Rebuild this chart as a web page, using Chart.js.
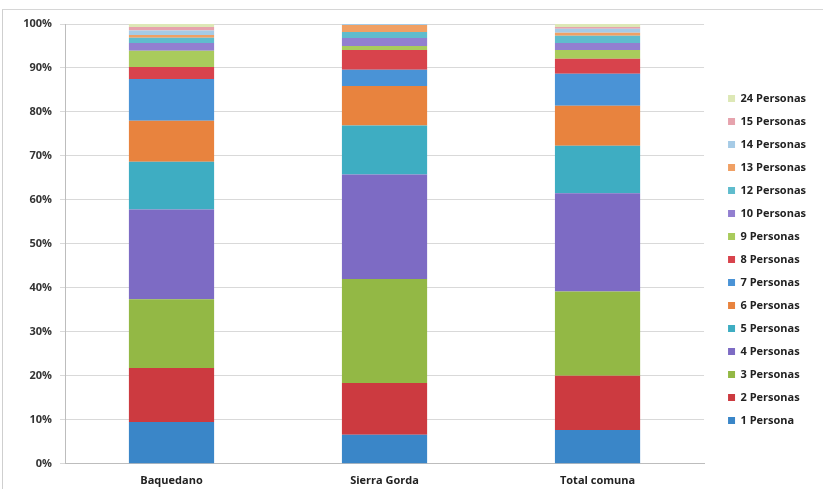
<!DOCTYPE html>
<html>
<head>
<meta charset="utf-8">
<script src="https://cdn.jsdelivr.net/npm/chart.js@4.4.1/dist/chart.umd.min.js"></script>
<style>
  html, body { margin: 0; padding: 0; background: #fff; }
  #wrap { position: relative; width: 823px; height: 489px; }
  #frame { position: absolute; left: 2px; top: 9px; right: 0; bottom: 0;
           border-left: 1px solid #cfcfcf; border-top: 1px solid #d6d6d6; pointer-events: none; }
</style>
</head>
<body>
<div id="wrap"><canvas id="hogarChart"></canvas><div id="frame"></div></div>
<script>
// categories
const zonas = ['Baquedano', 'Sierra Gorda', 'Total comuna'];

// tick labels (y axis, %)
const yTicks = [0, 10, 20, 30, 40, 50, 60, 70, 80, 90, 100];

// share of households by number of persons (%)
const p1  = [9.5, 6.6, 7.7];
const p2  = [12.3, 11.8, 12.3];
const p3  = [15.6, 23.6, 19.2];
const p4  = [20.4, 23.8, 22.3];
const p5  = [10.9, 11.1, 10.8];
const p6  = [9.3, 9.0, 9.1];
const p7  = [9.5, 3.7, 7.3];
const p8  = [2.7, 4.5, 3.4];
const p9  = [3.7, 0.9, 2.0];
const p10 = [1.8, 1.8, 1.6];
const p12 = [1.2, 1.4, 1.6];
const p13 = [0.6, 1.6, 0.7];
const p14 = [1.0, 0.2, 0.9];
const p15 = [0.8, 0.0, 0.4];
const p24 = [0.7, 0.0, 0.7];

const seriesNames = ['1 Persona', '2 Personas', '3 Personas', '4 Personas', '5 Personas',
  '6 Personas', '7 Personas', '8 Personas', '9 Personas', '10 Personas',
  '12 Personas', '13 Personas', '14 Personas', '15 Personas', '24 Personas'];
const seriesData = [p1, p2, p3, p4, p5, p6, p7, p8, p9, p10, p12, p13, p14, p15, p24];
const colores = ['#3a86c8', '#cc3a40', '#93b845', '#7d6bc4', '#3eadc2',
  '#e8833e', '#4a93d6', '#d8434c', '#a9cb5c', '#927fd0',
  '#5fbccd', '#f0a064', '#a6cbe6', '#e6a3ad', '#dde8b6'];

const fuente = '"Open Sans", Lato, sans-serif';

const datasets = seriesNames.map(function(name, i) {
  return {
    label: name,
    data: seriesData[i],
    backgroundColor: colores[i],
    borderWidth: 0,
    barPercentage: 0.8,
    categoryPercentage: 0.5
  };
});

// push the legend a bit away from the plot, like the original
const legendGap = {
  id: 'legendGap',
  afterLayout: function(chart) {
    if (chart.legend) {
      chart.legend.left += 12; chart.legend.right += 12;
      chart.legend.top += 3; chart.legend.bottom += 3;
    }
  }
};

new Chart(document.getElementById('hogarChart'), {
  type: 'bar',
  data: { labels: zonas, datasets: datasets },
  plugins: [legendGap],
  options: {
    responsive: true,
    maintainAspectRatio: false,
    animation: false,
    layout: { padding: { left: 2, top: 24, right: 19, bottom: 0 } },
    plugins: {
      tooltip: { enabled: false },
      legend: {
        position: 'right',
        reverse: true,
        labels: {
          boxWidth: 7,
          boxHeight: 7,
          padding: 12,
          color: '#222',
          font: { family: fuente, size: 11, weight: 'bold' }
        }
      }
    },
    scales: {
      x: {
        stacked: true,
        grid: { display: false },
        border: { color: '#bdbdbd' },
        ticks: {
          color: '#222',
          padding: 2,
          font: { family: fuente, size: 11, weight: 'bold' }
        }
      },
      y: {
        stacked: true,
        min: 0,
        max: 100,
        afterFit: function(scale) { scale.width = 63; },
        afterBuildTicks: function(scale) {
          scale.ticks = yTicks.map(function(v) { return { value: v }; });
        },
        grid: { color: '#d9d9d9', tickLength: 5 },
        border: { color: '#bdbdbd' },
        ticks: {
          color: '#333',
          padding: 8,
          callback: function(v) { return v + '%'; },
          font: { family: fuente, size: 11, weight: 'bold' }
        }
      }
    }
  }
});
</script>
</body>
</html>
